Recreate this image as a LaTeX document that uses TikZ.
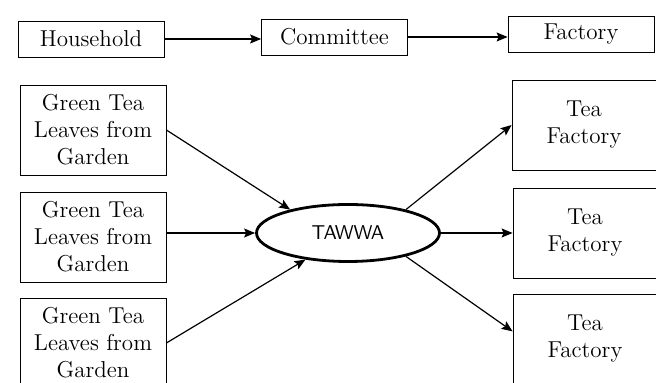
\documentclass[tikz,border=0pt]{standalone}
\usepackage{amssymb,amsmath}
\usepackage{tikz}
\usetikzlibrary{arrows.meta,shapes.geometric}

\begin{document}
\begin{tikzpicture}[x=0.5pt,y=-0.5pt,->,>={Stealth[length=5.5pt,width=4.5pt,inset=1pt]},semithick,
                    font=\fontsize{11.5}{13.5}\selectfont]
  \tikzstyle{every node}=[inner sep=0pt]
  \tikzstyle{topbox}=[draw,thin,rectangle,align=center,minimum width=73pt,minimum height=18pt]
  \tikzstyle{leafbox}=[draw,thin,rectangle,align=center,minimum width=73pt,minimum height=45pt]
  \tikzstyle{teabox}=[draw,thin,rectangle,align=center,minimum width=72pt,minimum height=45pt]
  \tikzstyle{hub}=[draw,ellipse,line width=1.4pt,minimum width=91.5pt,minimum height=28.5pt,
                   font=\sffamily\fontsize{10}{12}\selectfont]
  \useasboundingbox (0,0) rectangle (656,383);

  \node[topbox]  (house) at (91,39)    {Household};
  \node[topbox]  (comm)  at (334.5,37) {Committee};
  \node[topbox]  (fact)  at (581,34)   {Factory};

  \node[leafbox] (gt1)   at (93,130)   {Green Tea\\Leaves from\\Garden};
  \node[leafbox] (gt2)   at (93,237)   {Green Tea\\Leaves from\\Garden};
  \node[leafbox] (gt3)   at (93,343)   {Green Tea\\Leaves from\\Garden};

  \node[hub]     (tawwa) at (348,233)  {TAWWA};

  \node[teabox]  (tf1)   at (584,125)  {Tea\\Factory};
  \node[teabox]  (tf2)   at (585,233)  {Tea\\Factory};
  \node[teabox]  (tf3)   at (585,339)  {Tea\\Factory};

  \path (house.east)             edge (comm.west |- house.east)
        (comm.east)              edge (fact.west |- comm.east)
        (gt1.east)               edge (tawwa.158)
        (gt2.east |- tawwa.west) edge (tawwa.west)
        (gt3.east)               edge (tawwa.212)
        (tawwa.22)               edge (tf1.west)
        (tawwa.east)             edge (tf2.west)
        (tawwa.-22)              edge (tf3.174);

\end{tikzpicture}
\end{document}
